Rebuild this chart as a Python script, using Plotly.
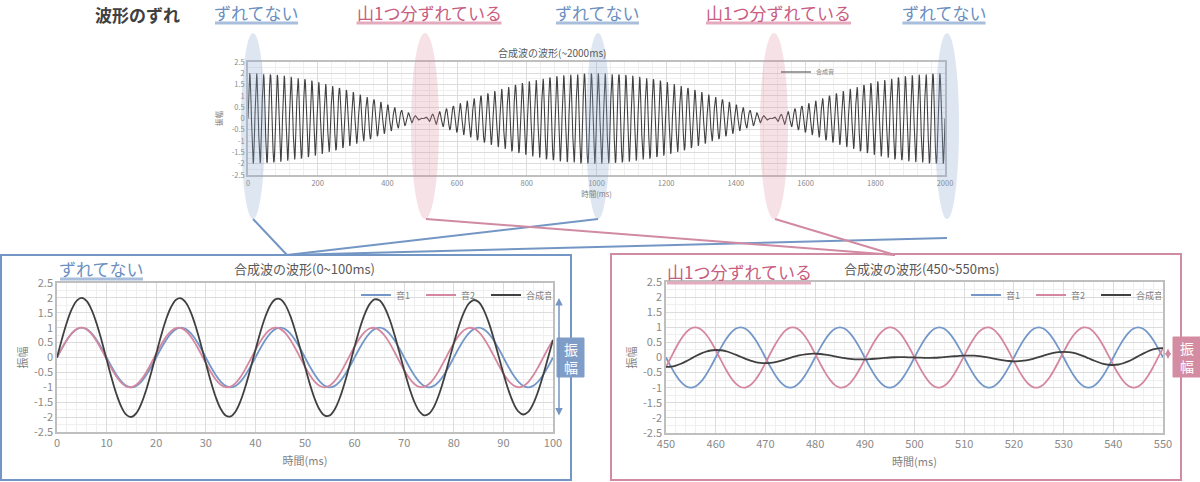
import numpy as np
import plotly.graph_objects as go

W, H = 1200, 482

# ---------------- data ----------------
SERIES_NAMES = ["音1", "音2", "合成音"]
FREQS_HZ = [50, 51]          # frequency of 音1 / 音2
AMPLITUDES = [1.0, 1.0]      # peak amplitude of 音1 / 音2
STEP_MS = 1                  # sampling step of the spreadsheet
TOP_RANGE_MS = [0, 2000]
LEFT_RANGE_MS = [0, 100]
RIGHT_RANGE_MS = [450, 550]
Y_TICKS = [2.5, 2, 1.5, 1, 0.5, 0, -0.5, -1, -1.5, -2, -2.5]
Y_TICK_TEXT = ["2.5", "2", "1.5", "1", "0.5", "0", "-0.5", "-1", "-1.5", "-2", "-2.5"]
TOP_X_TICKS = [0, 200, 400, 600, 800, 1000, 1200, 1400, 1600, 1800, 2000]
LEFT_X_TICKS = [0, 10, 20, 30, 40, 50, 60, 70, 80, 90, 100]
RIGHT_X_TICKS = [450, 460, 470, 480, 490, 500, 510, 520, 530, 540, 550]
TOP_LABELS = ["ずれてない", "山1つ分ずれている", "ずれてない", "山1つ分ずれている", "ずれてない"]


def waves(rng):
    t = np.arange(rng[0], rng[1] + STEP_MS, STEP_MS)
    w1 = AMPLITUDES[0] * np.sin(2 * np.pi * FREQS_HZ[0] * t / 1000.0)
    w2 = AMPLITUDES[1] * np.sin(2 * np.pi * FREQS_HZ[1] * t / 1000.0)
    return t, w1, w2, w1 + w2


# ---------------- styles ----------------
FONT = "Noto Sans CJK JP"
C1 = "#7397C9"
C2 = "#D4879F"
C3 = "#404040"
BLUE_TXT = "#6A8FC0"
PINK_TXT = "#C95C80"
BLUE_LINE = "#7496C4"
PINK_LINE = "#D08AA2"
TICK_C = "#8A8A8A"


def px(x):
    return x / W


def py(y):
    return 1 - y / H


fig = go.Figure()

# top chart
t, w1, w2, s = waves(TOP_RANGE_MS)
fig.add_trace(go.Scatter(x=t, y=s, name=SERIES_NAMES[2], mode="lines",
                         line=dict(color=C3, width=1.1), xaxis="x", yaxis="y",
                         legend="legend"))

# bottom-left chart
t, w1, w2, s = waves(LEFT_RANGE_MS)
for yy, nm, c in [(w1, SERIES_NAMES[0], C1), (w2, SERIES_NAMES[1], C2), (s, SERIES_NAMES[2], C3)]:
    fig.add_trace(go.Scatter(x=t, y=yy, name=nm, mode="lines", line=dict(color=c, width=1.8, shape="spline"),
                             xaxis="x2", yaxis="y2", legend="legend2"))

# bottom-right chart
t, w1, w2, s = waves(RIGHT_RANGE_MS)
for yy, nm, c in [(w1, SERIES_NAMES[0], C1), (w2, SERIES_NAMES[1], C2), (s, SERIES_NAMES[2], C3)]:
    fig.add_trace(go.Scatter(x=t, y=yy, name=nm, mode="lines", line=dict(color=c, width=1.8, shape="spline"),
                             xaxis="x3", yaxis="y3", legend="legend3"))


def xax(dom, anchor, rng, ticks, dtick_minor, fs, title, standoff):
    return dict(domain=dom, anchor=anchor, range=rng, tickvals=ticks, ticktext=[str(v) for v in ticks],
                showgrid=True, gridcolor="#DCDCDC", gridwidth=1,
                minor=dict(dtick=dtick_minor, showgrid=True, gridcolor="#EFEFEF", gridwidth=1),
                showline=True, linecolor="#BFBFBF", linewidth=1.5, mirror=True,
                ticks="", zeroline=False, automargin=False,
                tickfont=dict(size=fs, color=TICK_C, family=FONT),
                title=dict(text=title, font=dict(size=fs, color="#7F7F7F", family=FONT), standoff=standoff),
                fixedrange=True)


def yax(dom, anchor, fs, title, standoff):
    return dict(domain=dom, range=[-2.5, 2.5], tickvals=Y_TICKS, ticktext=Y_TICK_TEXT,
                anchor=anchor, showgrid=True, gridcolor="#DCDCDC", gridwidth=1,
                minor=dict(dtick=0.25, showgrid=True, gridcolor="#EFEFEF", gridwidth=1),
                showline=True, linecolor="#BFBFBF", linewidth=1.5, mirror=True,
                ticks="", zeroline=False, automargin=False,
                tickfont=dict(size=fs, color=TICK_C, family=FONT),
                title=dict(text=title, font=dict(size=fs, color="#7F7F7F", family=FONT), standoff=standoff),
                fixedrange=True)


layout = dict(
    width=W, height=H, margin=dict(l=0, r=0, t=0, b=0, autoexpand=False),
    paper_bgcolor="white", plot_bgcolor="white",
    font=dict(family=FONT, color="#595959"),
    xaxis=xax([px(248), px(945)], "y", TOP_RANGE_MS, TOP_X_TICKS, 40, 7.5, "時間(ms)", 4),
    yaxis=yax([py(175), py(62)], "x", 7.5, "振幅", 8),
    xaxis2=xax([px(57), px(553)], "y2", LEFT_RANGE_MS, LEFT_X_TICKS, 2, 11, "時間(ms)", 8),
    yaxis2=yax([py(432), py(283)], "x2", 11, "振幅", 4),
    xaxis3=xax([px(666), px(1163)], "y3", RIGHT_RANGE_MS, RIGHT_X_TICKS, 2, 11, "時間(ms)", 8),
    yaxis3=yax([py(433), py(282)], "x3", 11, "振幅", 4),
    legend=dict(x=px(776), y=py(72), xanchor="left", yanchor="middle", orientation="h",
                font=dict(size=6, color="#7F7F7F"), bgcolor="rgba(0,0,0,0)", itemwidth=30,
                tracegroupgap=0),
    legend2=dict(x=px(356), y=py(295), xanchor="left", yanchor="middle", orientation="h",
                 font=dict(size=9, color="#7F7F7F"), bgcolor="rgba(0,0,0,0)", itemwidth=30,
                 entrywidth=20, entrywidthmode="pixels"),
    legend3=dict(x=px(966), y=py(295), xanchor="left", yanchor="middle", orientation="h",
                 font=dict(size=9, color="#7F7F7F"), bgcolor="rgba(0,0,0,0)", itemwidth=30,
                 entrywidth=20, entrywidthmode="pixels"),
    showlegend=True,
)
fig.update_layout(**layout)

shapes = []
# ellipses
ell = [(253, 24, "blue"), (425, 28, "pink"), (598, 24, "blue"), (774, 28, "pink"), (947, 24, "blue")]
for cx, w, kind in ell:
    col = "rgba(138,165,205,0.28)" if kind == "blue" else "rgba(222,138,158,0.26)"
    shapes.append(dict(type="circle", xref="paper", yref="paper", x0=px(cx - w / 2), x1=px(cx + w / 2),
                       y0=py(219), y1=py(33), fillcolor=col, line=dict(width=0), layer="above"))
# connectors
for (x0, y0, x1, y1) in [(253, 219, 287, 255), (598, 219, 287, 255), (947, 238, 287, 255)]:
    shapes.append(dict(type="line", xref="paper", yref="paper", x0=px(x0), y0=py(y0), x1=px(x1), y1=py(y1),
                       line=dict(color=BLUE_LINE, width=2)))
for (x0, y0, x1, y1) in [(426, 219, 895, 255), (775, 219, 895, 255)]:
    shapes.append(dict(type="line", xref="paper", yref="paper", x0=px(x0), y0=py(y0), x1=px(x1), y1=py(y1),
                       line=dict(color=PINK_LINE, width=2)))
# boxes
shapes.append(dict(type="rect", xref="paper", yref="paper", x0=px(1), x1=px(571), y0=py(480), y1=py(255),
                   line=dict(color=BLUE_LINE, width=2), fillcolor="rgba(0,0,0,0)"))
shapes.append(dict(type="rect", xref="paper", yref="paper", x0=px(611), x1=px(1181), y0=py(480), y1=py(254),
                   line=dict(color=PINK_LINE, width=2), fillcolor="rgba(0,0,0,0)"))
# amplitude tags
shapes.append(dict(type="rect", xref="paper", yref="paper", x0=px(557), x1=px(584), y0=py(377), y1=py(338),
                   line=dict(color="#7F9DC7", width=1), fillcolor="#7F9DC7"))
shapes.append(dict(type="rect", xref="paper", yref="paper", x0=px(1173), x1=px(1200), y0=py(377), y1=py(337),
                   line=dict(color="#D48CA3", width=1), fillcolor="#D48CA3"))
# underlines of the labels
top_centers = [256.5, 429, 597.5, 778.5, 944]
for lab, cx in zip(TOP_LABELS, top_centers):
    wlab = 83 if lab == "ずれてない" else 145
    col = "#A8BEDC" if lab == "ずれてない" else "#E4AABD"
    shapes.append(dict(type="line", xref="paper", yref="paper", x0=px(cx - wlab / 2), x1=px(cx + wlab / 2),
                       y0=py(23), y1=py(23), line=dict(color=col, width=3)))
shapes.append(dict(type="line", xref="paper", yref="paper", x0=px(60), x1=px(143), y0=py(279), y1=py(279),
                   line=dict(color="#A8BEDC", width=3)))
shapes.append(dict(type="line", xref="paper", yref="paper", x0=px(667), x1=px(811), y0=py(283), y1=py(283),
                   line=dict(color="#E4AABD", width=3)))
fig.update_layout(shapes=shapes)


def note(text, x, y, size, color):
    return dict(text=text, x=px(x), y=py(y), xref="paper", yref="paper", showarrow=False,
                xanchor="center", yanchor="middle", font=dict(size=size, color=color, family=FONT))


ann = []
ann.append(note("<b>波形のずれ</b>", 137, 14, 17, "#404040"))
for lab, cx in zip(TOP_LABELS, top_centers):
    col = BLUE_TXT if lab == "ずれてない" else PINK_TXT
    ann.append(note(lab, cx, 12, 17, col))
ann.append(note("ずれてない", 101.5, 268, 17, BLUE_TXT))
ann.append(note("山1つ分ずれている", 739, 271, 17, PINK_TXT))
# chart titles
ann.append(note("合成波の波形(~2000ms)", 552, 52, 10, "#595959"))
ann.append(note("合成波の波形(0~100ms)", 304, 268, 13, "#595959"))
ann.append(note("合成波の波形(450~550ms)", 921, 268, 13, "#595959"))
# amplitude tag text
ann.append(note("振<br>幅", 570.5, 357.5, 14, "white"))
ann.append(note("振<br>幅", 1186.5, 357, 14, "white"))
# amplitude arrows
xl = (559 - 57) / (553 - 57)
ann.append(dict(text="", x=xl, y=2, xref="x2 domain", yref="y2", ax=xl, ay=-2, axref="x2 domain", ayref="y2",
                showarrow=True, arrowhead=2, arrowside="end+start", arrowsize=1, arrowwidth=1.5,
                arrowcolor=BLUE_LINE))
xr = (1168 - 666) / (1163 - 666)
ann.append(dict(text="", x=xr, y=0.3, xref="x3 domain", yref="y3", ax=xr, ay=-0.1, axref="x3 domain", ayref="y3",
                showarrow=True, arrowhead=2, arrowside="end+start", arrowsize=0.8, arrowwidth=1.5,
                arrowcolor=PINK_LINE))
fig.update_layout(annotations=ann)

fig.write_html("out.html", config={"displayModeBar": False},
               post_script="document.body.style.margin='0';document.body.style.overflow='hidden';")
